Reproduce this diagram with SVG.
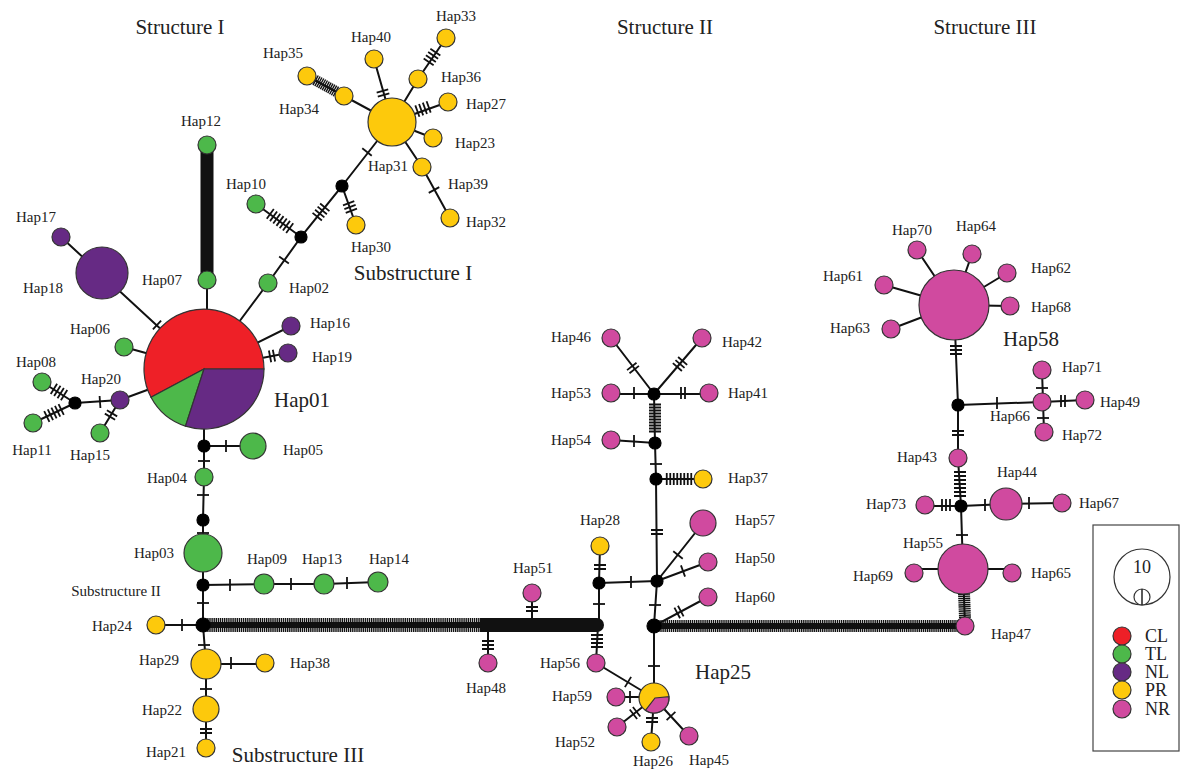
<svg xmlns="http://www.w3.org/2000/svg" xmlns:xlink="http://www.w3.org/1999/xlink" width="1181" height="769" viewBox="0 0 1181 769">
<style>
.e{stroke:#111;stroke-width:2;fill:none}
.k{stroke:#111;stroke-width:1.8;fill:none}
.hc{stroke:#111;fill:none}
.hd{stroke:#111;fill:none;stroke-dasharray:1.4 0.7}
.bar{stroke:#111;fill:none;stroke-linecap:round}
circle{stroke:#333;stroke-width:1.2}
.cl{fill:#ee2027}
.tl{fill:#4db84a}
.nl{fill:#662a84}
.pr{fill:#fdc90c}
.nr{fill:#d04a9f}
.bk{fill:#000;stroke:#000}
text{font-family:"Liberation Serif","Times New Roman",serif;font-size:15px;fill:#222;text-anchor:middle}
text.b{font-size:21px}
</style>
<defs>
<path id="k1" class="k" d="M0,-6V6"/>
<path id="k2" class="k" d="M-2,-6V6M2,-6V6"/>
<path id="k3" class="k" d="M-4,-6V6M0,-6V6M4,-6V6"/>
<path id="k4" class="k" d="M-6,-6V6M-2,-6V6M2,-6V6M6,-6V6"/>
<path id="k5" class="k" d="M-8,-6V6M-4,-6V6M0,-6V6M4,-6V6M8,-6V6"/>
<path id="k7" class="k" d="M-12,-6V6M-8,-6V6M-4,-6V6M0,-6V6M4,-6V6M8,-6V6M12,-6V6"/>
<path id="k8" class="k" d="M-12.25,-6V6M-8.75,-6V6M-5.25,-6V6M-1.75,-6V6M1.75,-6V6M5.25,-6V6M8.75,-6V6M12.25,-6V6"/>
<path id="k10" class="k" d="M-13.5,-6V6M-10.5,-6V6M-7.5,-6V6M-4.5,-6V6M-1.5,-6V6M1.5,-6V6M4.5,-6V6M7.5,-6V6M10.5,-6V6M13.5,-6V6"/>
</defs>
<rect width="1181" height="769" fill="#fff"/>

<g id="titles">
<text class="b" x="180" y="34">Structure I</text>
<text class="b" x="665" y="34">Structure II</text>
<text class="b" x="985" y="34">Structure III</text>
<text class="b" x="413" y="280">Substructure I</text>
<text x="116" y="596">Substructure II</text>
<text class="b" x="298" y="762">Substructure III</text>
</g>

<g id="connectors">
<path class="e" d="M61,237L204,369M207,280V320M204,369L268,283L301,237M256,204L301,237L342,186L356,225M342,186L392,122M374,59L392,122M307,76L344,96L392,122M446,38L418,79L392,122M448,102L392,122M433,138L392,122M392,122L422,167L450,218"/>
<path class="e" d="M291,326L204,369M288,353L204,369M124,347L204,369M120,400L204,369M75,403L120,400M42,382L75,403M33,423L75,403M100,433L120,400"/>
<path class="e" d="M204,369V446M204,446H253M204,446L204,477L203,520V585M203,585L264,584L324,584L378,582M203,585V625M203,625H156M203,625L206,664M206,664H265M206,664V748"/>
<path class="e" d="M532,593V625M488,663V625M596,663L598,625M599,583V625M599,583L600,546M599,583L657,581M654,394L611,338M654,394L702,338M654,394H611M654,394H709M654,394L655,443L611,440M655,443L656,479L703,479M656,479L657,581L703,523M657,581L708,562M657,581L654,626L708,597M654,626V698M596,663L654,698M616,697H654M617,727L654,698M654,698L651,742M654,698L689,736"/>
<path class="e" d="M965,626L963,569M963,569H914M963,569H1012M961,506L963,569M961,506H925M961,506L1006,504L1062,503M958,458L961,506M958,405L958,458M958,405L954,305M958,405L1042,402M1042,370L1044,432M1042,402L1085,400M954,305L917,250M954,305L972,254M954,305L1007,273M954,305L1010,306M954,305L884,285M954,305L891,329"/>
<!-- thick bars -->
<path class="bar" d="M207,148V277" stroke-width="13"/>
<path class="hc" d="M203,625H480" stroke-width="6"/>
<path class="hd" d="M203,625H480" stroke-width="14"/>
<path d="M480,618H597A7,7 0 0,1 597,632H480Z" fill="#111"/>
<path class="hc" d="M654,626H960" stroke-width="6"/>
<path class="hd" d="M654,626H960" stroke-width="12"/>
<path class="hd" d="M965,618L964,593" stroke-width="12"/>
<path class="hd" d="M315,80L337,92" stroke-width="11"/>
<!-- ticks -->
<use xlink:href="#k1" transform="translate(157,325) rotate(43)"/>
<use xlink:href="#k1" transform="translate(284,260) rotate(-54)"/>
<use xlink:href="#k7" transform="translate(280,221) rotate(36)"/>
<use xlink:href="#k4" transform="translate(321,212) rotate(-51)"/>
<use xlink:href="#k3" transform="translate(350,207) rotate(70)"/>
<use xlink:href="#k1" transform="translate(367,152) rotate(-52)"/>
<use xlink:href="#k2" transform="translate(383,93) rotate(74)"/>
<use xlink:href="#k4" transform="translate(432,57) rotate(124)"/>
<use xlink:href="#k4" transform="translate(423,109) rotate(160)"/>
<use xlink:href="#k1" transform="translate(434,190) rotate(61)"/>
<use xlink:href="#k2" transform="translate(272,356) rotate(169)"/>
<use xlink:href="#k1" transform="translate(100,402) rotate(-4)"/>
<use xlink:href="#k4" transform="translate(59,392) rotate(32)"/>
<use xlink:href="#k5" transform="translate(54,413) rotate(-26)"/>
<use xlink:href="#k2" transform="translate(111,415) rotate(-59)"/>
<use xlink:href="#k1" transform="translate(226,446)"/>
<use xlink:href="#k1" transform="translate(204,461) rotate(90)"/>
<use xlink:href="#k1" transform="translate(203,495) rotate(90)"/>
<use xlink:href="#k1" transform="translate(203,533) rotate(90)"/>
<use xlink:href="#k1" transform="translate(230,585)"/>
<use xlink:href="#k1" transform="translate(291,584)"/>
<use xlink:href="#k1" transform="translate(347,583)"/>
<use xlink:href="#k1" transform="translate(203,603) rotate(90)"/>
<use xlink:href="#k1" transform="translate(182,625)"/>
<use xlink:href="#k1" transform="translate(204,645) rotate(90)"/>
<use xlink:href="#k1" transform="translate(231,663)"/>
<use xlink:href="#k1" transform="translate(206,689) rotate(90)"/>
<use xlink:href="#k2" transform="translate(206,731) rotate(90)"/>
<use xlink:href="#k2" transform="translate(532,609) rotate(90)"/>
<use xlink:href="#k3" transform="translate(488,645) rotate(90)"/>
<use xlink:href="#k4" transform="translate(597,641) rotate(90)"/>
<use xlink:href="#k1" transform="translate(599,604) rotate(90)"/>
<use xlink:href="#k2" transform="translate(600,567) rotate(90)"/>
<use xlink:href="#k1" transform="translate(631,582)"/>
<use xlink:href="#k2" transform="translate(633,368) rotate(52)"/>
<use xlink:href="#k3" transform="translate(680,364) rotate(-49)"/>
<use xlink:href="#k1" transform="translate(634,393)"/>
<use xlink:href="#k2" transform="translate(683,393)"/>
<use xlink:href="#k10" transform="translate(655,418) rotate(90)"/>
<use xlink:href="#k1" transform="translate(634,441)"/>
<use xlink:href="#k1" transform="translate(656,464) rotate(90)"/>
<use xlink:href="#k8" transform="translate(679,479)"/>
<use xlink:href="#k2" transform="translate(657,532) rotate(90)"/>
<use xlink:href="#k1" transform="translate(678,555) rotate(-52)"/>
<use xlink:href="#k1" transform="translate(683,571) rotate(-20)"/>
<use xlink:href="#k1" transform="translate(655,605) rotate(90)"/>
<use xlink:href="#k2" transform="translate(679,612) rotate(-28)"/>
<use xlink:href="#k1" transform="translate(654,666) rotate(90)"/>
<use xlink:href="#k1" transform="translate(628,682) rotate(31)"/>
<use xlink:href="#k1" transform="translate(630,697)"/>
<use xlink:href="#k2" transform="translate(635,713) rotate(-38)"/>
<use xlink:href="#k2" transform="translate(652,720) rotate(90)"/>
<use xlink:href="#k1" transform="translate(671,716) rotate(47)"/>
<use xlink:href="#k1" transform="translate(962,535) rotate(90)"/>
<use xlink:href="#k3" transform="translate(946,505)"/>
<use xlink:href="#k1" transform="translate(985,505)"/>
<use xlink:href="#k1" transform="translate(1029,503)"/>
<use xlink:href="#k7" transform="translate(960,484) rotate(90)"/>
<use xlink:href="#k2" transform="translate(958,433) rotate(90)"/>
<use xlink:href="#k3" transform="translate(956,350) rotate(90)"/>
<use xlink:href="#k1" transform="translate(997,403)"/>
<use xlink:href="#k1" transform="translate(1042,388) rotate(90)"/>
<use xlink:href="#k1" transform="translate(1043,418) rotate(90)"/>
<use xlink:href="#k2" transform="translate(1063,401)"/>
<use xlink:href="#k1" transform="translate(936,277) rotate(56)"/>
</g>

<g id="Hap01">
<path class="cl" stroke="#333" stroke-width="1.2" d="M204,369L151,397.2A60,60 0 1,1 264,369Z"/>
<path class="tl" stroke="#333" stroke-width="1.2" d="M204,369L185.5,426.1A60,60 0 0,1 151,397.2Z"/>
<path class="nl" stroke="#333" stroke-width="1.2" d="M204,369L264,369A60,60 0 0,1 185.5,426.1Z"/>
<text class="b" x="302" y="407">Hap01</text>
</g>
<g id="Hap02"><circle class="tl" cx="268" cy="283" r="9"/><text x="309" y="293">Hap02</text></g>
<g id="Hap03"><circle class="tl" cx="203" cy="553" r="19"/><text x="154" y="558">Hap03</text></g>
<g id="Hap04"><circle class="tl" cx="204" cy="477" r="9"/><text x="167" y="483">Hap04</text></g>
<g id="Hap05"><circle class="tl" cx="253" cy="446" r="13"/><text x="303" y="455">Hap05</text></g>
<g id="Hap06"><circle class="tl" cx="124" cy="347" r="9"/><text x="90" y="334">Hap06</text></g>
<g id="Hap07"><circle class="tl" cx="207" cy="280" r="9"/><text x="162" y="285">Hap07</text></g>
<g id="Hap08"><circle class="tl" cx="42" cy="382" r="9"/><text x="36" y="367">Hap08</text></g>
<g id="Hap09"><circle class="tl" cx="264" cy="584" r="10"/><text x="267" y="564">Hap09</text></g>
<g id="Hap10"><circle class="tl" cx="256" cy="204" r="9"/><text x="246" y="189">Hap10</text></g>
<g id="Hap11"><circle class="tl" cx="33" cy="423" r="9"/><text x="32" y="455">Hap11</text></g>
<g id="Hap12"><circle class="tl" cx="207" cy="145" r="9"/><text x="201" y="126">Hap12</text></g>
<g id="Hap13"><circle class="tl" cx="324" cy="584" r="10"/><text x="322" y="564">Hap13</text></g>
<g id="Hap14"><circle class="tl" cx="378" cy="582" r="10"/><text x="389" y="564">Hap14</text></g>
<g id="Hap15"><circle class="tl" cx="100" cy="433" r="9"/><text x="90" y="460">Hap15</text></g>
<g id="Hap16"><circle class="nl" cx="291" cy="326" r="9"/><text x="330" y="328">Hap16</text></g>
<g id="Hap17"><circle class="nl" cx="61" cy="237" r="9"/><text x="36" y="222">Hap17</text></g>
<g id="Hap18"><circle class="nl" cx="102" cy="273" r="26"/><text x="43" y="293">Hap18</text></g>
<g id="Hap19"><circle class="nl" cx="288" cy="353" r="9"/><text x="332" y="362">Hap19</text></g>
<g id="Hap20"><circle class="nl" cx="120" cy="400" r="9"/><text x="101" y="384">Hap20</text></g>
<g id="Hap21"><circle class="pr" cx="206" cy="748" r="9"/><text x="166" y="757">Hap21</text></g>
<g id="Hap22"><circle class="pr" cx="206" cy="709" r="13"/><text x="162" y="715">Hap22</text></g>
<g id="Hap23"><circle class="pr" cx="433" cy="138" r="9"/><text x="475" y="148">Hap23</text></g>
<g id="Hap24"><circle class="pr" cx="156" cy="625" r="9"/><text x="112" y="631">Hap24</text></g>
<g id="Hap25">
<circle class="pr" cx="654" cy="698" r="15"/>
<path class="nr" stroke="#333" stroke-width="1.2" d="M655,698L668.9,696.7A15,15 0 0,1 645.4,710.3Z"/>
<text class="b" x="723" y="679">Hap25</text>
</g>
<g id="Hap26"><circle class="pr" cx="651" cy="742" r="9"/><text x="653" y="766">Hap26</text></g>
<g id="Hap27"><circle class="pr" cx="448" cy="102" r="9"/><text x="486" y="109">Hap27</text></g>
<g id="Hap28"><circle class="pr" cx="600" cy="546" r="9"/><text x="600" y="525">Hap28</text></g>
<g id="Hap29"><circle class="pr" cx="206" cy="664" r="15"/><text x="159" y="665">Hap29</text></g>
<g id="Hap30"><circle class="pr" cx="356" cy="225" r="9"/><text x="371" y="252">Hap30</text></g>
<g id="Hap31big"><circle class="pr" cx="392" cy="122" r="24"/></g>
<g id="Hap31"><circle class="pr" cx="422" cy="167" r="9"/><text x="388" y="171">Hap31</text></g>
<g id="Hap32"><circle class="pr" cx="450" cy="218" r="9"/><text x="486" y="227">Hap32</text></g>
<g id="Hap33"><circle class="pr" cx="446" cy="38" r="9"/><text x="456" y="21">Hap33</text></g>
<g id="Hap34"><circle class="pr" cx="344" cy="96" r="9"/><text x="299" y="114">Hap34</text></g>
<g id="Hap35"><circle class="pr" cx="307" cy="76" r="9"/><text x="283" y="58">Hap35</text></g>
<g id="Hap36"><circle class="pr" cx="418" cy="79" r="9"/><text x="461" y="82">Hap36</text></g>
<g id="Hap37"><circle class="pr" cx="703" cy="479" r="9"/><text x="748" y="483">Hap37</text></g>
<g id="Hap38"><circle class="pr" cx="265" cy="663" r="9"/><text x="310" y="668">Hap38</text></g>
<g id="Hap39"><text x="468" y="189">Hap39</text></g>
<g id="Hap40"><circle class="pr" cx="374" cy="59" r="9"/><text x="371" y="42">Hap40</text></g>
<g id="Hap41"><circle class="nr" cx="709" cy="393" r="9"/><text x="748" y="398">Hap41</text></g>
<g id="Hap42"><circle class="nr" cx="702" cy="338" r="9"/><text x="742" y="347">Hap42</text></g>
<g id="Hap43"><circle class="nr" cx="958" cy="458" r="9"/><text x="917" y="462">Hap43</text></g>
<g id="Hap44"><circle class="nr" cx="1006" cy="504" r="16"/><text x="1017" y="477">Hap44</text></g>
<g id="Hap45"><circle class="nr" cx="689" cy="736" r="9"/><text x="709" y="765">Hap45</text></g>
<g id="Hap46"><circle class="nr" cx="611" cy="338" r="9"/><text x="571" y="342">Hap46</text></g>
<g id="Hap47"><circle class="nr" cx="965" cy="626" r="9"/><text x="1011" y="639">Hap47</text></g>
<g id="Hap48"><circle class="nr" cx="488" cy="663" r="9"/><text x="486" y="693">Hap48</text></g>
<g id="Hap49"><circle class="nr" cx="1085" cy="400" r="9"/><text x="1120" y="407">Hap49</text></g>
<g id="Hap50"><circle class="nr" cx="708" cy="562" r="9"/><text x="755" y="563">Hap50</text></g>
<g id="Hap51"><circle class="nr" cx="532" cy="593" r="9"/><text x="533" y="573">Hap51</text></g>
<g id="Hap52"><circle class="nr" cx="617" cy="727" r="9"/><text x="575" y="747">Hap52</text></g>
<g id="Hap53"><circle class="nr" cx="611" cy="393" r="9"/><text x="571" y="398">Hap53</text></g>
<g id="Hap54"><circle class="nr" cx="611" cy="440" r="9"/><text x="571" y="445">Hap54</text></g>
<g id="Hap55"><circle class="nr" cx="963" cy="569" r="25"/><text x="923" y="548">Hap55</text></g>
<g id="Hap56"><circle class="nr" cx="596" cy="663" r="9"/><text x="560" y="668">Hap56</text></g>
<g id="Hap57"><circle class="nr" cx="703" cy="523" r="13"/><text x="755" y="525">Hap57</text></g>
<g id="Hap58"><circle class="nr" cx="954" cy="305" r="35"/><text class="b" x="1031" y="346">Hap58</text></g>
<g id="Hap59"><circle class="nr" cx="616" cy="697" r="9"/><text x="572" y="701">Hap59</text></g>
<g id="Hap60"><circle class="nr" cx="708" cy="597" r="9"/><text x="755" y="602">Hap60</text></g>
<g id="Hap61"><circle class="nr" cx="884" cy="285" r="9"/><text x="843" y="281">Hap61</text></g>
<g id="Hap62"><circle class="nr" cx="1007" cy="273" r="9"/><text x="1051" y="273">Hap62</text></g>
<g id="Hap63"><circle class="nr" cx="891" cy="329" r="9"/><text x="850" y="333">Hap63</text></g>
<g id="Hap64"><circle class="nr" cx="972" cy="254" r="9"/><text x="976" y="231">Hap64</text></g>
<g id="Hap65"><circle class="nr" cx="1012" cy="573" r="9"/><text x="1051" y="578">Hap65</text></g>
<g id="Hap66"><circle class="nr" cx="1042" cy="402" r="9"/><text x="1010" y="421">Hap66</text></g>
<g id="Hap67"><circle class="nr" cx="1062" cy="503" r="9"/><text x="1099" y="508">Hap67</text></g>
<g id="Hap68"><circle class="nr" cx="1010" cy="306" r="9"/><text x="1051" y="312">Hap68</text></g>
<g id="Hap69"><circle class="nr" cx="914" cy="573" r="9"/><text x="873" y="581">Hap69</text></g>
<g id="Hap70"><circle class="nr" cx="917" cy="250" r="9"/><text x="912" y="235">Hap70</text></g>
<g id="Hap71"><circle class="nr" cx="1042" cy="370" r="9"/><text x="1082" y="372">Hap71</text></g>
<g id="Hap72"><circle class="nr" cx="1044" cy="432" r="9"/><text x="1082" y="440">Hap72</text></g>
<g id="Hap73"><circle class="nr" cx="925" cy="505" r="9"/><text x="886" y="509">Hap73</text></g>

<g id="nodeA"><circle class="bk" cx="301" cy="237" r="6"/></g>
<g id="nodeB"><circle class="bk" cx="342" cy="186" r="6"/></g>
<g id="nodeC"><circle class="bk" cx="75" cy="403" r="6"/></g>
<g id="nodeD"><circle class="bk" cx="204" cy="446" r="6"/></g>
<g id="nodeE"><circle class="bk" cx="203" cy="520" r="6"/></g>
<g id="nodeF"><circle class="bk" cx="203" cy="585" r="6"/></g>
<g id="nodeG"><circle class="bk" cx="203" cy="625" r="7"/></g>
<g id="nodeH"><circle class="bk" cx="599" cy="583" r="6"/></g>
<g id="nodeJ"><circle class="bk" cx="654" cy="394" r="6"/></g>
<g id="nodeK"><circle class="bk" cx="655" cy="443" r="6"/></g>
<g id="nodeL"><circle class="bk" cx="656" cy="479" r="6"/></g>
<g id="nodeM"><circle class="bk" cx="657" cy="581" r="6"/></g>
<g id="nodeN"><circle class="bk" cx="654" cy="626" r="7"/></g>
<g id="nodeP"><circle class="bk" cx="961" cy="506" r="6"/></g>
<g id="nodeQ"><circle class="bk" cx="958" cy="405" r="6"/></g>

<g id="legend">
<rect x="1093" y="525" width="86" height="226" fill="#fff" stroke="#444" stroke-width="1.2"/>
<circle cx="1142" cy="577" r="28" fill="#fff" stroke="#222"/>
<circle cx="1142" cy="597" r="8" fill="#fff" stroke="#222"/>
<path d="M1142,589V605" stroke="#222" stroke-width="1.5"/>
<text x="1142" y="573" style="font-size:18px">10</text>
<circle class="cl" cx="1122" cy="636" r="9"/>
<circle class="tl" cx="1122" cy="654" r="9"/>
<circle class="nl" cx="1122" cy="672" r="9"/>
<circle class="pr" cx="1122" cy="690" r="9"/>
<circle class="nr" cx="1122" cy="709" r="9"/>
<text x="1145" y="642" style="font-size:18px;text-anchor:start">CL</text>
<text x="1145" y="660" style="font-size:18px;text-anchor:start">TL</text>
<text x="1145" y="678" style="font-size:18px;text-anchor:start">NL</text>
<text x="1145" y="696" style="font-size:18px;text-anchor:start">PR</text>
<text x="1145" y="715" style="font-size:18px;text-anchor:start">NR</text>
</g>
</svg>
